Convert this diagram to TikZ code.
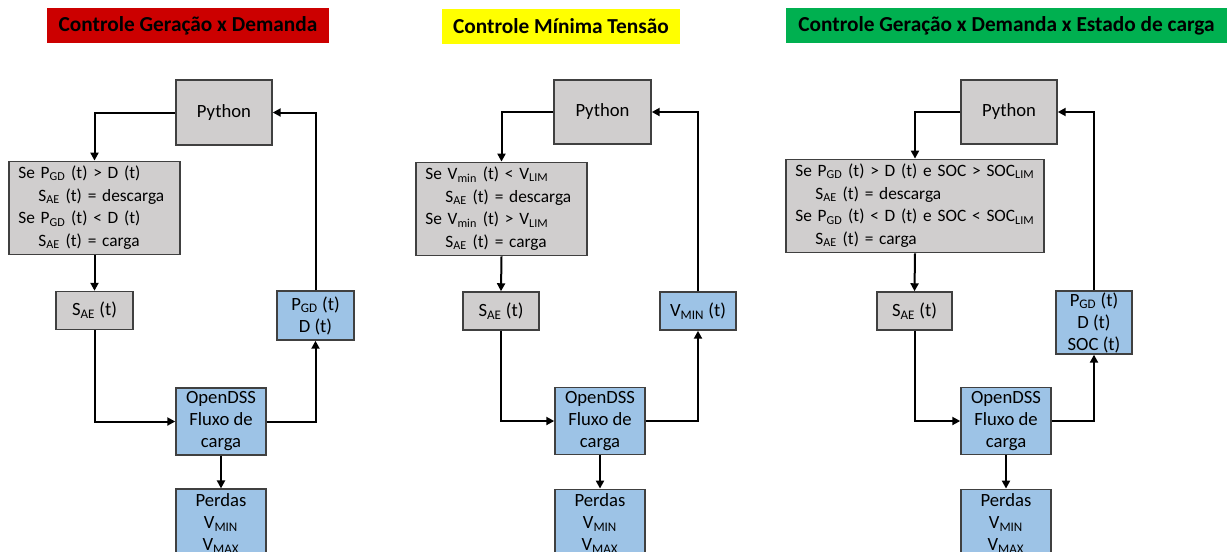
\documentclass[tikz,border=0pt]{standalone}
\usepackage{fontspec}
\setmainfont{Carlito}
\usetikzlibrary{positioning,arrows.meta}
\definecolor{boxGray}{RGB}{208,206,206}
\definecolor{boxBlue}{RGB}{157,195,230}
\definecolor{titleRed}{RGB}{204,0,0}
\definecolor{titleYellow}{RGB}{255,255,0}
\definecolor{titleGreen}{RGB}{0,176,80}
\newcommand{\condindent}{\hspace*{15pt}}
\tikzset{
    titlebox/.style={
        font=\fontsize{16}{19}\selectfont\bfseries,
        minimum height=26.25pt,
        inner sep=0pt
    },
    graybox/.style={
        draw=black!75,
        line width=1.1pt,
        fill=boxGray,
        font=\fontsize{14}{16.5}\selectfont,
        align=center,
        inner xsep=2pt,
        inner ysep=1pt
    },
    bluebox/.style={
        graybox,
        fill=boxBlue
    },
    condbox/.style={
        graybox,
        align=left,
        font=\fontsize{13}{17}\selectfont,
        inner xsep=7pt
    },
    ptr/.style={
        -{Triangle[length=6pt,width=6pt]},
        line width=1.5pt
    }
}

\begin{document}
\begin{tikzpicture}[x=0.75pt, y=-0.75pt]
    \clip (0,0) rectangle (1232,551);

    % Controle Geração x Demanda
    \node[titlebox, fill=titleRed, minimum width=211.5pt] (t1) at (188,25.5) {Controle Geração x Demanda};
    \node[graybox, minimum width=72pt, minimum height=48.75pt] (py1) at (224,112.5) {Python};
    \node[condbox, text width=114.25pt, minimum height=67.5pt] (c1) at (94.5,208) {\begin{tabular}{@{}l@{}}
        Se P\textsubscript{GD} (t) > D (t)\\
        \condindent S\textsubscript{AE} (t) = descarga\\
        Se P\textsubscript{GD} (t) < D (t)\\
        \condindent S\textsubscript{AE} (t) = carga
    \end{tabular}};
    \node[graybox, minimum width=57.75pt, minimum height=28.5pt] (s1) at (94.5,310.5) {S\textsubscript{AE} (t)};
    \node[bluebox, minimum width=57.75pt, minimum height=36.75pt] (m1) at (315.5,315.5) {P\textsubscript{GD} (t)\\D (t)};
    \node[bluebox, minimum width=67.5pt, minimum height=50.25pt] (o1) at (221,421.5) {OpenDSS\\Fluxo de\\carga};
    \node[bluebox, minimum width=67.5pt, minimum height=51pt, below=24.5pt of o1] (r1) {Perdas\\V\textsubscript{MIN}\\V\textsubscript{MAX}};

    \draw[ptr] (py1.west) -| (c1.north);
    \draw[ptr] (c1.south) -- (s1.north);
    \draw[ptr] (s1.south) |- (o1.west);
    \draw[ptr] (o1.east) -| (m1.south);
    \draw[ptr] (m1.north) |- (py1.east);
    \draw[ptr] (o1.south) -- (r1.north);

    % Controle Mínima Tensão
    \node[titlebox, fill=titleYellow, minimum width=178.5pt] (t2) at (561,26) {Controle Mínima Tensão};
    \node[graybox, minimum width=72.75pt, minimum height=48pt] (py2) at (602.5,112) {Python};
    \node[condbox, text width=114.25pt, minimum height=67.5pt] (c2) at (501.5,209) {\begin{tabular}{@{}l@{}}
        Se V\textsubscript{min} (t) < V\textsubscript{LIM}\\
        \condindent S\textsubscript{AE} (t) = descarga\\
        Se V\textsubscript{min} (t) > V\textsubscript{LIM}\\
        \condindent S\textsubscript{AE} (t) = carga
    \end{tabular}};
    \node[graybox, minimum width=57pt, minimum height=28.5pt] (s2) at (501,311) {S\textsubscript{AE} (t)};
    \node[bluebox, minimum width=57pt, minimum height=28.5pt] (m2) at (698,311) {V\textsubscript{MIN} (t)};
    \node[bluebox, minimum width=67.5pt, minimum height=50.25pt] (o2) at (600,421) {OpenDSS\\Fluxo de\\carga};
    \node[bluebox, minimum width=67.5pt, minimum height=51pt, below=25pt of o2] (r2) {Perdas\\V\textsubscript{MIN}\\V\textsubscript{MAX}};

    \draw[ptr] (py2.west) -| (c2.north);
    \draw[ptr] (c2.south) -- (s2.north);
    \draw[ptr] (s2.south) |- (o2.west);
    \draw[ptr] (o2.east) -| (m2.south);
    \draw[ptr] (m2.north) |- (py2.east);
    \draw[ptr] (o2.south) -- (r2.north);

    % Controle Geração x Demanda x Estado de carga
    \node[titlebox, fill=titleGreen, minimum width=330.75pt] (t3) at (1006.5,25.5) {Controle Geração x Demanda x Estado de carga};
    \node[graybox, minimum width=72pt, minimum height=48pt] (py3) at (1009,112) {Python};
    \node[condbox, text width=179.5pt, minimum height=64.5pt] (c3) at (915,206) {\begin{tabular}{@{}l@{}}
        Se P\textsubscript{GD} (t) > D (t) e SOC > SOC\textsubscript{LIM}\\
        \condindent S\textsubscript{AE} (t) = descarga\\
        Se P\textsubscript{GD} (t) < D (t) e SOC < SOC\textsubscript{LIM}\\
        \condindent S\textsubscript{AE} (t) = carga
    \end{tabular}};
    \node[graybox, minimum width=56.25pt, minimum height=28.5pt] (s3) at (914.5,311) {S\textsubscript{AE} (t)};
    \node[bluebox, minimum width=57pt, minimum height=45.75pt] (m3) at (1094,322.5) {P\textsubscript{GD} (t)\\D (t)\\SOC (t)};
    \node[bluebox, minimum width=67.5pt, minimum height=50.25pt] (o3) at (1006,421) {OpenDSS\\Fluxo de\\carga};
    \node[bluebox, minimum width=67.5pt, minimum height=51pt, below=25pt of o3] (r3) {Perdas\\V\textsubscript{MIN}\\V\textsubscript{MAX}};

    \draw[ptr] (py3.west) -| (c3.north);
    \draw[ptr] (c3.south) -- (s3.north);
    \draw[ptr] (s3.south) |- (o3.west);
    \draw[ptr] (o3.east) -| (m3.south);
    \draw[ptr] (m3.north) |- (py3.east);
    \draw[ptr] (o3.south) -- (r3.north);
\end{tikzpicture}
\end{document}
